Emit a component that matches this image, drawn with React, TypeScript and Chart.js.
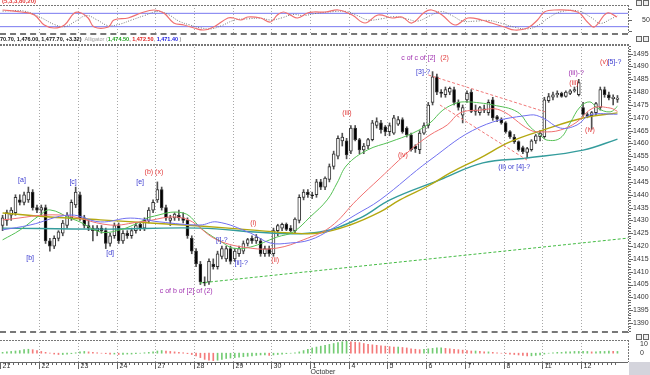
import React, { useEffect, useRef } from "react";
import { Chart, registerables } from "chart.js";

Chart.register(...registerables);

// ---------------- categories / ticks ----------------
const DAY_LABELS = ["21", "22", "23", "24", "27", "28", "29", "30", "1", "4", "5", "6", "7", "8", "11", "12"];
const MONTH_LABEL = "October";
const MONTH_START_DAY = 8;
const BARS_PER_DAY = 9;
const PRICE_TICKS = [1390, 1395, 1400, 1405, 1410, 1415, 1420, 1425, 1430, 1435, 1440, 1445, 1450, 1455, 1460, 1465, 1470, 1475, 1480, 1485, 1490, 1495];
const OSC_TICK = [50];
const HIST_TICKS = [10, 0];

// ---------------- OHLC ----------------
const OPEN = [
  1428, 1430, 1432, 1433, 1438, 1437, 1438, 1441, 1435,
  1434, 1435, 1422, 1420, 1423, 1425, 1428, 1431, 1436,
  1440, 1431, 1428, 1427, 1426, 1427, 1426, 1421, 1424,
  1428, 1422, 1425, 1424, 1426, 1428.5, 1427, 1430, 1434,
  1438, 1442, 1435, 1430, 1431, 1432, 1431, 1430, 1423,
  1418, 1413, 1406, 1406, 1413, 1412, 1416, 1415, 1419,
  1415, 1417, 1418, 1421, 1423, 1422, 1422, 1417, 1419,
  1417, 1426, 1427, 1428.5, 1427, 1426, 1430, 1439, 1441,
  1440, 1440, 1445, 1443, 1446, 1451, 1455, 1461, 1461,
  1457, 1466, 1461.5, 1457.5, 1459, 1461.5, 1467, 1468, 1466.5,
  1464.6, 1464, 1467.5, 1469.3, 1466, 1463.4, 1459, 1457.6, 1464,
  1467, 1476, 1486, 1480, 1479, 1480, 1481, 1476, 1471,
  1477, 1480, 1472.5, 1472, 1473.5, 1472, 1477, 1470.5, 1469.5,
  1468, 1464.6, 1462.5, 1460.7, 1458.4, 1456.5, 1457.6, 1461, 1462.6,
  1462.6, 1476.7, 1478, 1479, 1479.5, 1478.3, 1479.5, 1480.5, 1479,
  1474, 1471.3, 1470.8, 1472, 1474, 1481, 1479, 1477.5, 1477.2
];
const HIGH = [
  1432, 1434, 1435, 1440, 1440, 1441, 1443, 1442, 1436,
  1436, 1436, 1423, 1424, 1426, 1430, 1433, 1438, 1443,
  1441, 1432, 1430, 1428, 1428, 1428, 1427, 1425, 1429,
  1429, 1426, 1426, 1427, 1429, 1429, 1431, 1435, 1438,
  1445, 1443, 1436, 1432, 1433, 1434, 1433, 1431, 1424,
  1419, 1414, 1408, 1415, 1415, 1418, 1420, 1420, 1420,
  1419, 1420, 1422, 1423, 1424, 1424.5, 1423, 1420, 1420,
  1427, 1428.5, 1429, 1429, 1428, 1431, 1440, 1442, 1442,
  1441, 1446, 1446, 1447, 1452, 1457, 1463, 1464, 1462,
  1467, 1467, 1462, 1460, 1462, 1469, 1470, 1469, 1467,
  1468, 1471, 1470.5, 1470, 1466.5, 1464, 1459.5, 1465, 1468,
  1476, 1488, 1487, 1481, 1482, 1482, 1482, 1477, 1475,
  1480.5, 1481, 1475, 1474.5, 1475, 1477, 1478, 1471, 1470,
  1468.5, 1465, 1463.5, 1461, 1459, 1458.5, 1461.5, 1463.5, 1465,
  1478, 1479.5, 1480, 1480.5, 1480, 1480.5, 1481, 1482, 1485,
  1476, 1472, 1472.5, 1476, 1482, 1482, 1480, 1479, 1478.7
];
const LOW = [
  1426, 1428, 1430, 1432, 1436, 1436, 1437, 1434, 1433,
  1432, 1421, 1418, 1419, 1422, 1424, 1427, 1430, 1435,
  1430, 1427, 1426, 1422, 1424, 1425, 1419, 1420, 1423,
  1421, 1421, 1423, 1423, 1425, 1426, 1426, 1429, 1433,
  1437, 1434, 1430, 1428, 1430, 1430, 1429, 1423, 1417,
  1412, 1405, 1404.5, 1405, 1411, 1411, 1415, 1414, 1413,
  1414, 1416, 1417, 1420, 1421, 1421, 1416, 1416, 1416,
  1416, 1424, 1426, 1426, 1425.5, 1425, 1429, 1438, 1439,
  1438.5, 1439, 1442, 1442, 1445, 1450, 1454, 1459, 1454,
  1456, 1461, 1456, 1456, 1458, 1461, 1466, 1464, 1463,
  1463, 1463.5, 1467, 1464, 1462.5, 1457, 1456.5, 1456, 1463.5,
  1466, 1475, 1479, 1478, 1478, 1479, 1475, 1473, 1468,
  1476, 1472, 1471, 1471, 1472, 1471, 1469, 1468.5, 1467.5,
  1464, 1462, 1460, 1457, 1456, 1454.5, 1457, 1460, 1461,
  1462, 1476, 1477, 1478, 1478, 1478, 1479, 1480, 1478.5,
  1470.5, 1470, 1465.5, 1471, 1473, 1478, 1477, 1475, 1476
];
const CLOSE = [
  1431, 1433, 1434, 1439, 1437, 1440, 1441, 1435, 1434,
  1435, 1422, 1420, 1423, 1425.5, 1429, 1432, 1437, 1441,
  1431, 1428, 1427, 1426, 1427, 1426, 1421, 1424, 1428,
  1422, 1425, 1424, 1426, 1428, 1427, 1430, 1434, 1437,
  1442, 1435, 1431, 1431, 1432.5, 1431, 1430, 1424, 1418,
  1413, 1406, 1405.5, 1414, 1412, 1417, 1419, 1419, 1414,
  1418, 1419, 1421, 1422.5, 1422, 1423.5, 1417, 1419, 1417,
  1426, 1428, 1428.5, 1426.5, 1426, 1430.5, 1439, 1441, 1440,
  1439.5, 1445, 1443, 1446.5, 1451, 1456, 1462, 1462.5, 1455.5,
  1466, 1461.5, 1457.5, 1459, 1461.5, 1468, 1468.5, 1465.4, 1464.5,
  1467, 1470, 1469.3, 1464.6, 1463.4, 1457.6, 1458, 1464, 1467,
  1475, 1486, 1480, 1479.5, 1481, 1481.5, 1476, 1474, 1474,
  1479.5, 1472.5, 1473, 1474, 1473, 1476, 1470, 1469.5, 1468,
  1464.6, 1462.5, 1460.7, 1457.6, 1456.8, 1458, 1461, 1463, 1464,
  1477, 1478.3, 1479, 1479.5, 1478.3, 1480, 1480.5, 1481, 1483.7,
  1471.3, 1470.5, 1472, 1475.5, 1481, 1479, 1477.7, 1478, 1477.7
];

// ---------------- overlay lines: [bar, price] ----------------
const LIPS = [[0, 1422.4], [4.1, 1426.3], [8.7, 1432.1], [11, 1434.1], [15.7, 1430.9], [18, 1429.4], [22.7, 1425.5], [27.3, 1426.3], [32, 1429.4], [34.3, 1431.3], [42, 1432.9], [46.6, 1426.3], [51.3, 1421.2], [53.6, 1419.2], [57.6, 1419.6], [63.8, 1423.5], [67.6, 1425.5], [71.5, 1431.3], [75.5, 1438], [77.8, 1444.6], [80.1, 1451.6], [84.8, 1457.4], [90.1, 1460.6], [95.5, 1464.1], [99.4, 1468], [102.4, 1473], [105.7, 1475.8], [108, 1476.2], [111, 1475.8], [114.1, 1475], [119.7, 1472.3], [122.7, 1466.4], [125, 1463.3], [126.6, 1461.3], [129.7, 1462.1], [132, 1468], [134.3, 1474.2], [136.6, 1476.2], [138.3, 1473.8], [141.3, 1472.3], [143, 1474.5]];
const TEETH = [[0, 1430.2], [13.4, 1432.1], [25, 1428.2], [32, 1429.4], [42, 1430.9], [49.9, 1422.4], [57.6, 1419.2], [63.8, 1419.2], [69.9, 1422.4], [76.2, 1427.4], [82.4, 1438], [87.8, 1446.5], [94.8, 1457.4], [99.4, 1463.3], [103.4, 1467.2], [106.4, 1471.9], [111, 1473], [115.7, 1473], [122.7, 1465.2], [125.7, 1464.5], [129.7, 1465.2], [133.6, 1468.4], [137.3, 1473.8], [141.3, 1473.8], [143, 1472.5]];
const JAW = [[0, 1426.3], [6.4, 1428.2], [15.7, 1432.1], [22.7, 1429.4], [29.7, 1430.9], [36.6, 1429.4], [45.9, 1428.2], [49.9, 1429.4], [57.6, 1425.1], [62.2, 1421.2], [66.9, 1421.2], [71.5, 1422.4], [76.2, 1426.3], [82, 1432.1], [87.8, 1438], [99.4, 1453.5], [111, 1466.4], [122.7, 1471.1], [125.7, 1469.9], [129.7, 1466], [133.6, 1467.2], [136.6, 1471.1], [143, 1471.4]];
const MA_YELLOW = [[0, 1432.9], [11, 1431.3], [22.7, 1430.2], [34.3, 1429], [45.9, 1427.8], [57.6, 1426.3], [66.9, 1425.1], [73.8, 1425.1], [80.8, 1428.2], [87.8, 1433.3], [92.4, 1438], [99.4, 1443.8], [104.1, 1448.5], [111, 1454.3], [118, 1460.6], [125.7, 1465.2], [135, 1469.9], [143, 1471.9]];
const MA_TEAL = [[0, 1427], [22.7, 1426.6], [45.9, 1427], [62.2, 1425.1], [73.8, 1425.5], [83.1, 1430.9], [90.1, 1438], [101.7, 1445.8], [111.7, 1452.4], [122, 1454.3], [135, 1457.4], [143, 1461.7]];
const TREND_GREEN = [[45.9, 1405.6], [145.5, 1423.1]];
const TREND_RED_UPPER = [[99, 1486.7], [126.2, 1472.3]];
const TREND_RED_LOWER = [[101.7, 1475], [122, 1453.5]];

// ---------------- oscillator (top) ----------------
const OSC_K = [[0, 95], [4.4, 86], [7.4, 72.5], [9.7, 27.5], [12, 14], [14.4, 27.5], [16.7, 81.5], [18.3, 81.5], [19.9, 59], [21.3, 18.5], [24.6, 18.5], [25.9, 50], [29.2, 59], [32.2, 81.5], [35.2, 95], [37.5, 81.5], [39.8, 36.5], [42.2, 27.5], [44.5, 14], [46.8, 5], [49.1, 18.5], [52.4, 59], [53.7, 59], [55.4, 50], [57, 63.5], [60, 59], [62.3, 41], [63.9, 72.5], [65.3, 86], [66.9, 72.5], [68.6, 59], [70.9, 81.5], [72.3, 86], [75.1, 86], [78.1, 95], [81.3, 72.5], [84.3, 36.5], [87.3, 72.5], [90.6, 59], [92.9, 63.5], [95.2, 36.5], [98.2, 86], [99.8, 95], [102.2, 72.5], [105.2, 27.5], [108.2, 59], [111.4, 50], [113.7, 36.5], [116.7, 18.5], [119.1, 5], [122.1, 14], [124.4, 50], [126, 86], [128.3, 95], [133.7, 86], [136, 41], [137.6, 18.5], [140.6, 81.5], [142.9, 63.5]];
const OSC_D = [[0, 90], [5, 90], [9, 60], [12, 30], [14.5, 20], [17, 45], [19.5, 70], [22, 50], [24.5, 25], [27, 30], [30, 50], [33, 70], [36, 88], [38.5, 75], [41, 45], [43.5, 28], [46, 15], [48.5, 10], [51, 25], [54, 50], [57, 55], [60, 58], [62.5, 50], [65, 60], [67.5, 75], [70, 70], [73, 80], [77, 88], [80, 88], [82.5, 70], [85, 50], [88, 55], [91, 65], [94, 55], [96.5, 45], [99.5, 70], [102, 88], [104.5, 70], [107, 45], [110, 45], [113, 48], [116, 35], [119, 18], [122, 10], [124.5, 25], [127, 60], [130, 88], [134, 90], [137, 60], [139, 35], [141.5, 55], [143, 70]];
const OSC_LEVELS = [80, 20];

// ---------------- histogram (bottom) ----------------
const HIST = [
  1, 1.5, 2, 2.5, 3, 4, 4.5, 4, 3,
  2, 1, 0, -1, -1.5, -1.5, -1, -0.5, 0.5,
  1.5, 2, 1.5, 1, 0.5, 0, -0.5, -1, -1,
  -1.5, -1.5, -1, -1, -0.5, 0, 0.5, 1, 1.5,
  2.5, 3, 2.5, 2, 1.5, 1, 0.5, -0.5, -1.5,
  -3, -5, -7, -8, -8.5, -8, -7, -6, -5.5,
  -5, -4.5, -4, -3.5, -3, -2.5, -2, -2, -2.5,
  -2, -1.5, -1, -0.5, 0, 0.5, 1.5, 3, 4.5,
  6, 7, 8, 9, 10, 11, 12, 13, 13.5,
  13, 12.5, 12, 11, 10, 9.5, 9, 8.5, 8,
  7.5, 7, 7, 6.5, 6, 5, 4.5, 4, 4.5,
  5, 5.5, 6, 6, 5.5, 5, 4.5, 4, 3.5,
  3, 2.5, 2.5, 2, 1.5, 1.5, 1, 0.5, 0,
  -0.5, -1, -1.5, -2, -2.5, -3, -3, -2.5, -2,
  -1, 0, 0.5, 1, 1, 1.5, 1.5, 2, 2,
  2, 2, 1.5, 1.5, 2, 2, 2.5, 2, 2
];

// ---------------- texts ----------------
const HEADER_OHLC = "70.70, 1,476.00, 1,477.70, +3.32)";
const HEADER_NAME = "Alligator";
const ALLIGATOR_VALUES = ["1,474.50", "1,472.50", "1,471.40"];
const OSC_TITLE = "(5,3,3,80,20)";

const BLUE = "#3a3ad0";
const RED = "#e23a3a";
const PURPLE = "#a030b0";
const NOTES = [
  { t: "[a]", i: 4.5, p: 1445.8, c: BLUE },
  { t: "[b]", i: 6.4, p: 1415.3, c: BLUE },
  { t: "[c]", i: 16.4, p: 1445, c: BLUE },
  { t: "[d]", i: 25, p: 1417.3, c: BLUE },
  { t: "[e]", i: 32, p: 1445, c: BLUE },
  { t: "(b) (x)", i: 35.2, p: 1448.9, c: RED },
  { t: "c of b of [2] of (2)", i: 42.7, p: 1402.5, c: PURPLE },
  { t: "[i]-?", i: 51, p: 1422.4, c: BLUE },
  { t: "[ii]-?", i: 55.5, p: 1413.4, c: BLUE },
  { t: "(i)", i: 58.3, p: 1429, c: RED },
  { t: "(ii)", i: 63.4, p: 1414.6, c: RED },
  { t: "(iii)", i: 80.1, p: 1471.9, c: RED },
  { t: "(iv)", i: 93.1, p: 1455.5, c: RED },
  { t: "c of c of [2]", i: 96.7, p: 1493.3, c: PURPLE },
  { t: "(2)", i: 102.8, p: 1493.3, c: RED },
  { t: "[3]-?", i: 97.8, p: 1487.9, c: BLUE },
  { t: "(ii) or [4]-?", i: 119, p: 1450.8, c: BLUE },
  { t: "(iii)-?", i: 133.4, p: 1487.5, c: PURPLE },
  { t: "(iii)", i: 132.9, p: 1483.6, c: RED },
  { t: "(iv)", i: 136.6, p: 1465.2, c: RED },
  { t: "(v)", i: 139.9, p: 1491.8, c: RED },
  { t: "[5]-?", i: 142.3, p: 1491.8, c: BLUE },
];

// ---------------- layout constants ----------------
const X_MIN = -0.6;
const X_MAX = 145.45;
const FONT = '"Liberation Sans", Arial, sans-serif';

const pts = (arr: number[][]) => arr.map(([x, y]) => ({ x, y }));

function drawDayGrid(chart: any) {
  const { ctx, chartArea: a, scales } = chart;
  const x = scales.x;
  ctx.save();
  ctx.strokeStyle = "#a8a8a8";
  ctx.lineWidth = 1;
  ctx.setLineDash([1, 2]);
  for (let k = 1; k < DAY_LABELS.length; k++) {
    const px = Math.round(x.getPixelForValue(k * BARS_PER_DAY - 0.5)) + 0.5;
    ctx.beginPath();
    ctx.moveTo(px, a.top);
    ctx.lineTo(px, a.bottom);
    ctx.stroke();
  }
  ctx.restore();
}

function drawFrame(chart: any, topWidth: number) {
  const { ctx, chartArea: a } = chart;
  ctx.save();
  ctx.strokeStyle = "#777";
  ctx.lineWidth = 1;
  ctx.setLineDash([2, 1]);
  ctx.beginPath();
  ctx.moveTo(a.right + 0.5, a.top);
  ctx.lineTo(a.right + 0.5, a.bottom);
  ctx.stroke();
  if (topWidth > 0) {
    ctx.lineWidth = topWidth;
    ctx.beginPath();
    ctx.moveTo(0, a.top + topWidth / 2);
    ctx.lineTo(a.right, a.top + topWidth / 2);
    ctx.stroke();
  }
  ctx.restore();
}

const baseOptions = (padding: any, yMin: number, yMax: number) => ({
  responsive: false,
  animation: false as const,
  events: [] as any[],
  layout: { padding },
  plugins: { legend: { display: false }, tooltip: { enabled: false } },
  scales: {
    x: { type: "linear" as const, display: false, min: X_MIN, max: X_MAX, offset: false, grid: { offset: false } },
    y: { type: "linear" as const, display: false, min: yMin, max: yMax },
  },
});

// ---------------- main panel ----------------
const mainPlugin = {
  id: "mainDeco",
  beforeDatasetsDraw(chart: any) {
    drawDayGrid(chart);
  },
  afterDraw(chart: any) {
    const { ctx, chartArea: a, scales } = chart;
    const x = scales.x, y = scales.y;
    drawFrame(chart, 2);
    ctx.save();
    ctx.strokeStyle = "#666";
    ctx.setLineDash([]);
    ctx.lineWidth = 1;
    for (let p = 1387; p <= 1498; p++) {
      const py = Math.round(y.getPixelForValue(p)) + 0.5;
      const len = p % 5 === 0 ? 4 : 2;
      ctx.beginPath();
      ctx.moveTo(a.right + 1, py);
      ctx.lineTo(a.right + 1 + len, py);
      ctx.stroke();
    }
    ctx.fillStyle = "#333";
    ctx.font = `7px ${FONT}`;
    ctx.textAlign = "left";
    ctx.textBaseline = "middle";
    PRICE_TICKS.forEach((p) => {
      ctx.fillText(String(p), a.right + 5, y.getPixelForValue(p));
    });
    ctx.font = `7px ${FONT}`;
    ctx.textAlign = "center";
    NOTES.forEach((n) => {
      ctx.fillStyle = n.c;
      ctx.fillText(n.t, x.getPixelForValue(n.i), y.getPixelForValue(n.p));
    });
    let hx = 0;
    const hy = 6;
    ctx.textAlign = "left";
    ctx.font = `bold 5.5px ${FONT}`;
    ctx.fillStyle = "#111";
    ctx.fillText(HEADER_OHLC, hx, hy);
    hx += ctx.measureText(HEADER_OHLC).width + 3;
    ctx.font = `5.5px ${FONT}`;
    ctx.fillStyle = "#999";
    ctx.fillText(HEADER_NAME + " (", hx, hy);
    hx += ctx.measureText(HEADER_NAME + " (").width;
    ctx.font = `bold 5.5px ${FONT}`;
    const cols = ["#20a020", "#e02020", "#2020e0"];
    ALLIGATOR_VALUES.forEach((v, k) => {
      ctx.fillStyle = cols[k];
      ctx.fillText(v, hx, hy);
      hx += ctx.measureText(v).width;
      ctx.fillStyle = "#999";
      const sep = k < 2 ? ", " : " )";
      ctx.fillText(sep, hx, hy);
      hx += ctx.measureText(sep).width;
    });
    ctx.restore();
  },
};

function MainChart() {
  const ref = useRef<HTMLCanvasElement>(null);
  useEffect(() => {
    const wick = HIGH.map((h, i) => ({ x: i, y: [LOW[i], h] }));
    const body = OPEN.map((o, i) => ({ x: i, y: [o, CLOSE[i]] }));
    const bodyColors = OPEN.map((o, i) => (CLOSE[i] >= o ? "#ffffff" : "#000000"));
    const line = (data: number[][], color: string, width: number, order: number, dash: number[] = []) => ({
      type: "line" as const,
      data: pts(data),
      borderColor: color,
      borderWidth: width,
      borderDash: dash,
      pointRadius: 0,
      tension: dash.length ? 0 : 0.4,
      fill: false,
      order,
    });
    const chart = new Chart(ref.current as HTMLCanvasElement, {
      type: "bar",
      data: {
        datasets: [
          { type: "bar", data: wick as any, backgroundColor: "#505050", barThickness: 1, grouped: false, order: 6 } as any,
          {
            type: "bar",
            data: body as any,
            backgroundColor: bodyColors,
            borderColor: "#333",
            borderWidth: 1,
            borderSkipped: false,
            barThickness: 3,
            minBarLength: 1,
            grouped: false,
            order: 5,
          } as any,
          line(MA_TEAL, "#349c9c", 1.4, 3),
          line(MA_YELLOW, "#b4a810", 1.4, 2),
          line(JAW, "#7070f0", 1, 1),
          line(TEETH, "#f07070", 1, 1),
          line(LIPS, "#55c055", 1, 1),
          line(TREND_GREEN, "#44bb44", 1, 0, [3, 2]),
          line(TREND_RED_UPPER, "#f07878", 1, 0, [3, 2]),
          line(TREND_RED_LOWER, "#f07878", 1, 0, [3, 2]),
        ],
      },
      options: baseOptions({ left: 0, right: 22, top: 11, bottom: 2 }, 1386.1, 1498.77) as any,
      plugins: [mainPlugin],
    });
    return () => chart.destroy();
  }, []);
  return <canvas ref={ref} width={650} height={302} style={{ position: "absolute", left: 0, top: 33, width: 650, height: 302 }} />;
}

// ---------------- oscillator panel ----------------
const oscPlugin = {
  id: "oscDeco",
  beforeDatasetsDraw(chart: any) {
    drawDayGrid(chart);
  },
  afterDraw(chart: any) {
    const { ctx, chartArea: a, scales } = chart;
    drawFrame(chart, 1);
    ctx.save();
    ctx.fillStyle = "#333";
    ctx.font = `7px ${FONT}`;
    ctx.textBaseline = "middle";
    OSC_TICK.forEach((v) => ctx.fillText(String(v), a.right + 14, scales.y.getPixelForValue(v)));
    ctx.strokeStyle = "#666";
    [100, 50, 0].forEach((v) => {
      const py = Math.round(scales.y.getPixelForValue(v)) + 0.5;
      ctx.beginPath();
      ctx.moveTo(a.right + 1, py);
      ctx.lineTo(a.right + 4, py);
      ctx.stroke();
    });
    ctx.fillStyle = RED;
    ctx.font = `bold 6px ${FONT}`;
    ctx.fillText(OSC_TITLE, 2, 1);
    ctx.restore();
  },
};

function OscChart() {
  const ref = useRef<HTMLCanvasElement>(null);
  useEffect(() => {
    const chart = new Chart(ref.current as HTMLCanvasElement, {
      type: "line",
      data: {
        datasets: [
          ...OSC_LEVELS.map((v) => ({
            data: [{ x: X_MIN, y: v }, { x: X_MAX, y: v }],
            borderColor: "#7878f0",
            borderWidth: 1,
            pointRadius: 0,
            order: 3,
          })),
          { data: pts(OSC_D), borderColor: "#777", borderWidth: 1, borderDash: [1, 1.5], pointRadius: 0, tension: 0.4, order: 2 },
          { data: pts(OSC_K), borderColor: "#f07070", borderWidth: 1.2, pointRadius: 0, tension: 0.4, order: 1 },
        ] as any,
      },
      options: baseOptions({ left: 0, right: 22, top: 5, bottom: 2 }, -8.5, 117.5) as any,
      plugins: [oscPlugin],
    });
    return () => chart.destroy();
  }, []);
  return <canvas ref={ref} width={650} height={35} style={{ position: "absolute", left: 0, top: 0, width: 650, height: 35 }} />;
}

// ---------------- histogram panel ----------------
const histPlugin = {
  id: "histDeco",
  beforeDatasetsDraw(chart: any) {
    drawDayGrid(chart);
  },
  afterDraw(chart: any) {
    const { ctx, chartArea: a, scales } = chart;
    const x = scales.x;
    drawFrame(chart, 1);
    ctx.save();
    ctx.strokeStyle = "#666";
    ctx.lineWidth = 1;
    ctx.setLineDash([]);
    ctx.beginPath();
    ctx.moveTo(0, a.bottom + 0.5);
    ctx.lineTo(a.right, a.bottom + 0.5);
    ctx.stroke();
    for (let i = 0; i < DAY_LABELS.length * BARS_PER_DAY; i++) {
      const px = Math.round(x.getPixelForValue(i - 0.5)) + 0.5;
      ctx.beginPath();
      ctx.moveTo(px, a.bottom + 1);
      ctx.lineTo(px, a.bottom + 3);
      ctx.stroke();
    }
    ctx.fillStyle = "#333";
    ctx.font = `7px ${FONT}`;
    ctx.textBaseline = "middle";
    DAY_LABELS.forEach((d, k) => {
      const px = Math.round(x.getPixelForValue(k * BARS_PER_DAY - 0.5)) + 0.5;
      ctx.beginPath();
      ctx.moveTo(px, a.bottom + 1);
      ctx.lineTo(px, a.bottom + 7);
      ctx.stroke();
      ctx.fillText(d, px + 2, a.bottom + 4.5);
      if (k === MONTH_START_DAY) ctx.fillText(MONTH_LABEL, px, a.bottom + 10.5);
    });
    HIST_TICKS.forEach((v) => ctx.fillText(String(v), a.right + 12, scales.y.getPixelForValue(v)));
    ctx.restore();
  },
};

function HistChart() {
  const ref = useRef<HTMLCanvasElement>(null);
  useEffect(() => {
    const colors = HIST.map((v, i) => (i === 0 || v >= HIST[i - 1] ? "#74cc74" : "#f47a7a"));
    const chart = new Chart(ref.current as HTMLCanvasElement, {
      type: "bar",
      data: {
        datasets: [
          { data: HIST.map((v, i) => ({ x: i, y: v })), backgroundColor: colors, barThickness: 1, grouped: false } as any,
        ],
      },
      options: baseOptions({ left: 0, right: 22, top: 5, bottom: 13 }, -10, 15) as any,
      plugins: [histPlugin],
    });
    return () => chart.destroy();
  }, []);
  return <canvas ref={ref} width={650} height={40} style={{ position: "absolute", left: 0, top: 335, width: 650, height: 40 }} />;
}

function Icons({ top }: { top: number }) {
  const box: React.CSSProperties = { position: "absolute", top, width: 6, height: 6, border: "1px solid #666", background: "#eee", boxSizing: "border-box" };
  return (
    <>
      <div style={{ ...box, left: 636 }} />
      <div style={{ ...box, left: 643 }} />
    </>
  );
}

export default function App() {
  return (
    <div style={{ position: "absolute", left: 0, top: 0, width: 650, height: 375, overflow: "hidden", background: "#fff" }}>
      <OscChart />
      <MainChart />
      <HistChart />
      <div style={{ position: "absolute", left: 0, top: 33, width: 628, height: 0, borderTop: "2px dashed #777" }} />
      <div style={{ position: "absolute", left: 0, top: 331, width: 628, height: 0, borderTop: "2px dashed #777" }} />
      <Icons top={0} />
      <Icons top={36} />
      <Icons top={334} />
      <div style={{ position: "absolute", left: 629, top: 362, width: 21, height: 13, background: "#d4d4dc" }} />
    </div>
  );
}
